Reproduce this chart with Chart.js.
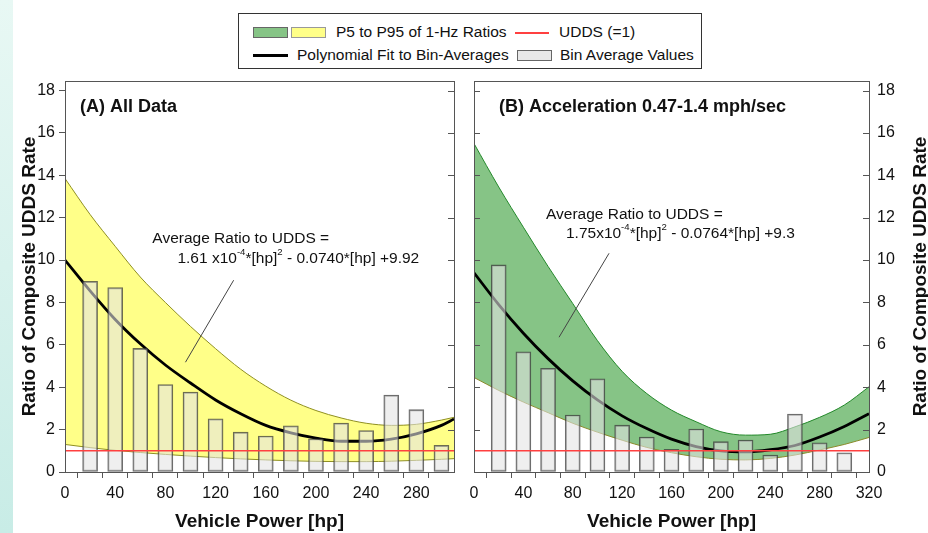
<!DOCTYPE html>
<html>
<head>
<meta charset="utf-8">
<script src="https://cdn.jsdelivr.net/npm/chart.js@4.4.0/dist/chart.umd.min.js"></script>
<style>
  body { margin: 0; width: 928px; height: 533px; overflow: hidden; background: #fff; position: relative;
         font-family: "Liberation Sans", Arial, sans-serif; color: #111; }
  #strip { position: absolute; left: 0; top: 0; width: 13px; height: 533px;
           background: linear-gradient(to bottom, #e8f8f4, #c8ece6); }
  canvas { position: absolute; top: 0; }
  #panelA { left: 0; }
  #panelB { left: 460px; }
  #legend { position: absolute; left: 238px; top: 13px; width: 462px; height: 54px;
            border: 1px solid #333; background: #fff; font-size: 15.5px; }
  #legend .sw { position: absolute; box-sizing: border-box; }
  #legend .tx { position: absolute; line-height: 18px; white-space: nowrap; }
</style>
</head>
<body>
<div id="strip"></div>
<canvas id="panelA" width="460" height="533"></canvas>
<canvas id="panelB" width="468" height="533"></canvas>
<div id="legend">
  <div class="sw" style="left:14px;top:13px;width:35px;height:11px;background:#86c486;border:1px solid #666"></div>
  <div class="sw" style="left:52px;top:13px;width:35px;height:11px;background:#ffff88;border:1px solid #999"></div>
  <div class="tx" style="left:97px;top:9px">P5 to P95 of 1-Hz Ratios</div>
  <div class="sw" style="left:276px;top:18px;width:34px;height:2px;background:#ff4040"></div>
  <div class="tx" style="left:320px;top:9px">UDDS (=1)</div>
  <div class="sw" style="left:14px;top:40px;width:35px;height:3px;background:#000"></div>
  <div class="tx" style="left:58px;top:32px">Polynomial Fit to Bin-Averages</div>
  <div class="sw" style="left:278px;top:36px;width:35px;height:11px;background:#e8e8e8;border:1px solid #666"></div>
  <div class="tx" style="left:321px;top:32px">Bin Average Values</div>
</div>
<script>
// bin centres [hp] and bin-average ratios
const hpBins = [20, 40, 60, 80, 100, 120, 140, 160, 180, 200, 220, 240, 260, 280, 300];
const binAvgAll = [9.0, 8.7, 5.83, 4.13, 3.77, 2.51, 1.88, 1.7, 2.18, 1.57, 2.31, 1.96, 3.63, 2.94, 1.26];
const binAvgAccel = [9.77, 5.67, 4.89, 2.69, 4.4, 2.21, 1.65, 1.07, 2.03, 1.43, 1.51, 0.8, 2.73, 1.38, 0.91];

// curves
const hpCurveAll = [0, 20, 40, 60, 80, 100, 120, 140, 160, 180, 200, 220, 240, 260, 280, 300, 310];
const fitAll = [10.0, 8.55, 7.2, 6.05, 5.05, 4.2, 3.4, 2.75, 2.2, 1.85, 1.6, 1.45, 1.45, 1.55, 1.8, 2.2, 2.5];
const p95All = [13.85, 12.15, 10.65, 9.2, 8.0, 6.87, 5.82, 4.85, 4.05, 3.39, 2.9, 2.55, 2.3, 2.2, 2.25, 2.45, 2.58];
const p5All = [1.3, 1.15, 1.02, 0.92, 0.83, 0.75, 0.68, 0.62, 0.57, 0.53, 0.5, 0.49, 0.49, 0.51, 0.55, 0.6, 0.63];

const hpCurveAccel = [0, 20, 40, 60, 80, 100, 120, 140, 160, 180, 200, 220, 240, 260, 280, 300, 320];
const fitAccel = [9.4, 7.9, 6.55, 5.35, 4.3, 3.4, 2.65, 2.05, 1.55, 1.2, 1.0, 0.95, 1.05, 1.25, 1.65, 2.15, 2.75];
const p95Accel = [15.5, 13.45, 11.55, 9.7, 7.95, 6.2, 4.75, 3.7, 2.92, 2.37, 1.9, 1.74, 1.78, 2.13, 2.58, 3.16, 4.02];
const p5Accel = [4.46, 3.85, 3.3, 2.8, 2.3, 1.88, 1.5, 1.16, 0.91, 0.72, 0.6, 0.57, 0.64, 0.8, 1.04, 1.3, 1.63];

const uddsLevel = 1;
const yTickValues = [0, 2, 4, 6, 8, 10, 12, 14, 16, 18];
const xLabelStep = 40;

const FONT = '"Liberation Sans", Arial, sans-serif';
const pts = (xs, ys) => xs.map((x, i) => ({ x, y: ys[i] }));

function drawRich(ctx, x, y, parts, size) {
  let cx = x;
  for (const [t, sup] of parts) {
    ctx.font = (sup ? size * 0.62 : size) + 'px ' + FONT;
    ctx.fillText(t, cx, sup ? y - size * 0.42 : y);
    cx += ctx.measureText(t).width;
  }
}

// frame, inward ticks, titles and the fit annotation
const decor = {
  id: 'decor',
  afterDatasetsDraw(chart, args, o) {
    const { ctx, chartArea: a, scales } = chart;
    const ys = scales.y, xs = scales.x;
    ctx.save();
    ctx.strokeStyle = '#555';
    ctx.lineWidth = 1;
    ctx.strokeRect(a.left + 0.5, a.top + 0.5, a.right - a.left, a.bottom - a.top);
    ctx.beginPath();
    for (const v of yTickValues) {
      const y = Math.round(ys.getPixelForValue(v)) + 0.5;
      for (const side of o.inward) {
        const x0 = side === 'left' ? a.left : a.right;
        const d = side === 'left' ? 6 : -6;
        ctx.moveTo(x0, y); ctx.lineTo(x0 + d, y);
      }
    }
    ctx.stroke();

    // leader line
    ctx.strokeStyle = '#444';
    ctx.beginPath();
    ctx.moveTo(xs.getPixelForValue(o.leader[0]), ys.getPixelForValue(o.leader[1]));
    ctx.lineTo(xs.getPixelForValue(o.leader[2]), ys.getPixelForValue(o.leader[3]));
    ctx.stroke();

    ctx.fillStyle = '#111';
    ctx.textBaseline = 'middle';
    ctx.textAlign = 'left';
    ctx.font = 'bold 18px ' + FONT;
    ctx.fillText(o.title, a.left + o.titleDx, a.top + 26);

    ctx.font = '15.5px ' + FONT;
    ctx.fillText('Average Ratio to UDDS =', xs.getPixelForValue(o.note1[0]), ys.getPixelForValue(o.note1[1]));
    drawRich(ctx, xs.getPixelForValue(o.note2[0]), ys.getPixelForValue(o.note2[1]), o.eq, 15.5);

    ctx.font = 'bold 19px ' + FONT;
    ctx.textAlign = 'center';
    ctx.fillText('Vehicle Power [hp]', (a.left + a.right) / 2, 522);
    ctx.translate(o.yTitleX, (a.top + a.bottom) / 2);
    ctx.rotate(-Math.PI / 2);
    ctx.fillText('Ratio of Composite UDDS Rate', 0, 0);
    ctx.restore();
  }
};

function makePanel(id, cfg) {
  const lineBase = { type: 'line', pointRadius: 0, cubicInterpolationMode: 'monotone' };
  return new Chart(document.getElementById(id), {
    type: 'line',
    data: {
      datasets: [
        { ...lineBase, data: [{ x: 0, y: uddsLevel }, { x: cfg.xMax, y: uddsLevel }],
          borderColor: '#ff4040', borderWidth: 1.6, order: 0 },
        { type: 'bar', data: pts(hpBins, cfg.bins), barThickness: 15,
          backgroundColor: 'rgba(228,228,228,0.58)', borderColor: 'rgba(60,60,60,0.75)',
          borderWidth: 1.3, borderSkipped: false, order: 1 },
        { ...lineBase, data: pts(cfg.hp, cfg.fit), borderColor: '#000', borderWidth: 2.8, order: 2 },
        { ...lineBase, data: pts(cfg.hp, cfg.p95), borderColor: cfg.upperEdge, borderWidth: 1,
          fill: '+1', backgroundColor: cfg.band, order: 4 },
        { ...lineBase, data: pts(cfg.hp, cfg.p5), borderColor: cfg.lowerEdge, borderWidth: 1, order: 3 }
      ]
    },
    options: {
      responsive: false,
      animation: false,
      layout: { padding: cfg.padding },
      plugins: { legend: { display: false }, tooltip: { enabled: false }, decor: cfg.decor },
      scales: {
        x: {
          type: 'linear', min: 0, max: cfg.xMax, offset: false,
          afterBuildTicks: s => { s.ticks = s.ticks.filter(t => t.value % 20 === 0); },
          afterFit: s => { s.height = 61; },
          ticks: { stepSize: 20, autoSkip: false, maxRotation: 0, padding: 6, color: '#111',
                   font: { family: FONT, size: 16 },
                   callback: v => (v % xLabelStep === 0 ? v : '') },
          grid: { drawOnChartArea: false, drawTicks: true, tickLength: 6, color: '#555' },
          border: { display: false }
        },
        y: {
          type: 'linear', position: cfg.yPos, min: 0, max: 18.45,
          afterBuildTicks: s => { s.ticks = yTickValues.map(v => ({ value: v })); },
          afterFit: s => { s.width = cfg.yWidth; },
          ticks: { stepSize: 2, padding: cfg.yPad, color: '#111', font: { family: FONT, size: 16 } },
          grid: { drawOnChartArea: false, drawTicks: cfg.yPos === 'left', tickLength: 6, color: '#555' },
          border: { display: false }
        }
      }
    },
    plugins: [decor]
  });
}

makePanel('panelA', {
  xMax: 310, hp: hpCurveAll, fit: fitAll, p95: p95All, p5: p5All, bins: binAvgAll,
  band: '#ffff88', upperEdge: '#8f8f22', lowerEdge: '#8f8f22',
  yPos: 'left', yWidth: 65, yPad: 4, padding: { top: 81, right: 6, left: 0, bottom: 0 },
  decor: {
    title: '(A) All Data', titleDx: 15, yTitleX: 30, inward: ['right'],
    note1: [69.6, 11.03], note2: [89.6, 10.08], leader: [134.4, 9.05, 96, 5.18],
    eq: [['1.61 x10', 0], ['-4', 1], ['*[hp]', 0], ['2', 1], [' - 0.0740*[hp] +9.92', 0]]
  }
});

makePanel('panelB', {
  xMax: 320, hp: hpCurveAccel, fit: fitAccel, p95: p95Accel, p5: p5Accel, bins: binAvgAccel,
  band: '#86c486', upperEdge: '#23882a', lowerEdge: '#8a8a2a',
  yPos: 'right', yWidth: 59, yPad: 8, padding: { top: 81, right: 0, left: 14, bottom: 0 },
  decor: {
    title: '(B) Acceleration 0.47-1.4 mph/sec', titleDx: 25, yTitleX: 461, inward: ['left', 'right'],
    note1: [58.3, 12.16], note2: [74.5, 11.26], leader: [109.4, 10.32, 68.9, 6.36],
    eq: [['1.75x10', 0], ['-4', 1], ['*[hp]', 0], ['2', 1], [' - 0.0764*[hp] +9.3', 0]]
  }
});
</script>
</body>
</html>
